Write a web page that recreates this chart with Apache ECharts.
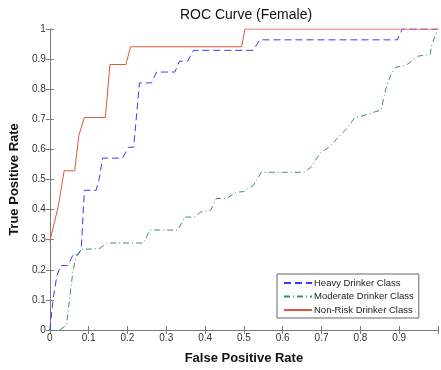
<!DOCTYPE html>
<html lang="en">
<head>
    <meta charset="UTF-8">
    <title>ROC Curve (Female)</title>
    <script src="https://cdn.jsdelivr.net/npm/echarts@6/dist/echarts.min.js"></script>
    <style>
        *{
            margin: 0;
            padding: 0;
        }
        html,body{
            width: 100%;
            height: 100%;
            background: #fff;
        }
        .main{
            width: 441px;
            height: 370px;
        }
    </style>
</head>
<body>
<div class="main"></div>
<script>
    // values
    let seriesNames = ['Heavy Drinker Class', 'Moderate Drinker Class', 'Non-Risk Drinker Class'];

    let heavyX = [0, 0.009, 0.018, 0.028, 0.046, 0.06, 0.073, 0.081, 0.089, 0.119, 0.127, 0.136, 0.187, 0.203, 0.216, 0.231, 0.262, 0.275, 0.322, 0.334, 0.355, 0.37, 0.524, 0.541, 0.895, 0.908, 1];
    let heavyY = [0, 0.107, 0.179, 0.214, 0.214, 0.25, 0.25, 0.268, 0.464, 0.464, 0.5, 0.571, 0.571, 0.607, 0.607, 0.821, 0.821, 0.857, 0.857, 0.893, 0.893, 0.929, 0.929, 0.964, 0.964, 1, 1];

    let moderateX = [0.026, 0.043, 0.051, 0.06, 0.068, 0.081, 0.127, 0.149, 0.241, 0.258, 0.33, 0.347, 0.372, 0.389, 0.414, 0.429, 0.456, 0.478, 0.499, 0.524, 0.545, 0.655, 0.672, 0.697, 0.722, 0.744, 0.765, 0.786, 0.807, 0.853, 0.866, 0.878, 0.891, 0.916, 0.95, 0.98, 0.984, 0.992, 1];
    let moderateY = [0, 0.016, 0.104, 0.2, 0.244, 0.268, 0.27, 0.289, 0.289, 0.332, 0.332, 0.375, 0.375, 0.392, 0.397, 0.437, 0.437, 0.457, 0.46, 0.48, 0.524, 0.524, 0.54, 0.588, 0.61, 0.642, 0.669, 0.706, 0.712, 0.731, 0.803, 0.846, 0.873, 0.878, 0.91, 0.916, 0.948, 0.975, 1];

    let nonRiskX = [0, 0.022, 0.037, 0.064, 0.075, 0.089, 0.143, 0.155, 0.196, 0.208, 0.494, 0.503, 1];
    let nonRiskY = [0.294, 0.412, 0.529, 0.529, 0.647, 0.706, 0.706, 0.882, 0.882, 0.941, 0.941, 1, 1];

    let zip = (xs, ys) => xs.map((x, i) => [x, ys[i]]);

    let main = echarts.init(document.getElementsByClassName('main')[0]);

    let axisColor = '#7a7a7a';
    let labelColor = '#333';

    let option = {
        backgroundColor: '#fff',
        animation: false,
        title: {
            text: 'ROC Curve (Female)',
            left: 246,
            top: 8,
            padding: 0,
            textAlign: 'center',
            textStyle: {
                fontFamily: 'Liberation Sans',
                fontSize: 14,
                fontWeight: 'normal',
                color: '#111'
            }
        },
        grid: {
            left: 48,
            top: 29,
            right: -2,
            bottom: 31
        },
        legend: {
            data: seriesNames,
            orient: 'vertical',
            left: 277,
            top: 274,
            padding: [4, 5, 3, 6],
            itemGap: 3.5,
            itemWidth: 28,
            itemHeight: 10,
            borderColor: '#666',
            borderWidth: 1,
            backgroundColor: '#fff',
            itemStyle: {opacity: 0},
            textStyle: {
                fontFamily: 'Liberation Sans',
                fontSize: 9.5,
                color: '#222',
                padding: [0, 0, 0, -3]
            }
        },
        xAxis: [{
            type: 'value',
            min: 0,
            max: 1,
            interval: 0.1,
            name: 'False Positive Rate',
            nameLocation: 'middle',
            nameGap: 22,
            nameTextStyle: {
                fontFamily: 'Liberation Sans',
                fontSize: 13,
                fontWeight: 'bold',
                color: '#111'
            },
            axisLine: {lineStyle: {color: axisColor}},
            axisTick: {inside: true, length: 4, lineStyle: {color: axisColor}},
            axisLabel: {
                margin: 3,
                fontFamily: 'Liberation Sans',
                fontSize: 10,
                color: labelColor,
                formatter: v => v === 1 ? '' : v
            },
            splitLine: {show: false}
        }, {
            type: 'value',
            position: 'top',
            min: 0,
            max: 1,
            interval: 0.1,
            axisLine: {lineStyle: {color: axisColor}},
            axisTick: {inside: true, length: 4, lineStyle: {color: axisColor}},
            axisLabel: {show: false},
            splitLine: {show: false}
        }],
        yAxis: [{
            type: 'value',
            min: 0,
            max: 1,
            interval: 0.1,
            name: 'True Positive Rate',
            nameLocation: 'middle',
            nameGap: 27,
            nameTextStyle: {
                fontFamily: 'Liberation Sans',
                fontSize: 13,
                fontWeight: 'bold',
                color: '#111'
            },
            axisLine: {show: true, lineStyle: {color: axisColor}},
            axisTick: {show: true, inside: true, length: 4, lineStyle: {color: axisColor}},
            axisLabel: {
                margin: 4,
                fontFamily: 'Liberation Sans',
                fontSize: 10,
                color: labelColor
            },
            splitLine: {show: false}
        }, {
            type: 'value',
            position: 'right',
            min: 0,
            max: 1,
            interval: 0.1,
            axisLine: {show: true, lineStyle: {color: axisColor}},
            axisTick: {show: true, inside: true, length: 4, lineStyle: {color: axisColor}},
            axisLabel: {show: false},
            splitLine: {show: false}
        }],
        series: [{
            name: seriesNames[0],
            type: 'line',
            symbol: 'none',
            data: zip(heavyX, heavyY),
            itemStyle: {color: '#3a3aff'},
            lineStyle: {color: '#3a3aff', width: 1, type: [7, 4]}
        }, {
            name: seriesNames[1],
            type: 'line',
            symbol: 'none',
            data: zip(moderateX, moderateY),
            itemStyle: {color: '#3f8f62'},
            lineStyle: {color: '#3f8f62', width: 1, type: [6, 3, 1, 3]}
        }, {
            name: seriesNames[2],
            type: 'line',
            symbol: 'none',
            data: zip(nonRiskX, nonRiskY),
            itemStyle: {color: '#e2543c'},
            lineStyle: {color: '#e2543c', width: 1}
        }]
    };
    main.setOption(option);
</script>
</body>
</html>
